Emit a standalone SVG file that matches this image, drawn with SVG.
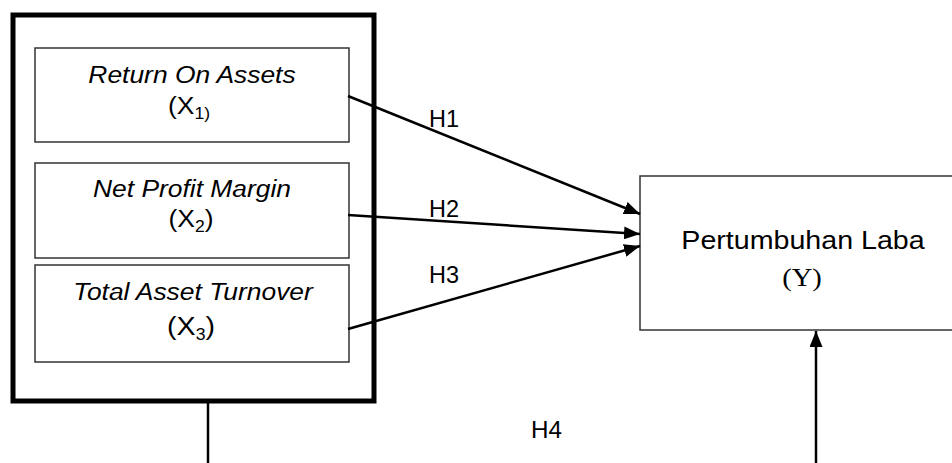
<svg xmlns="http://www.w3.org/2000/svg" width="952" height="463" viewBox="0 0 952 463">
<style>
.box{fill:#fff;stroke:#333;stroke-width:1.5}
.outer{fill:none;stroke:#000;stroke-width:5}
.lbl{font-family:"Liberation Sans",Arial,sans-serif;font-size:24px;fill:#000}
.it{font-style:italic}
.big{font-size:26px}
.sub{font-size:16px}
.serif{font-family:"Liberation Serif","Times New Roman",serif;font-size:26px;fill:#000}
.h{font-family:"Liberation Sans",Arial,sans-serif;font-size:24px;fill:#000}
.conn{stroke:#000;stroke-width:2.5;fill:none}
</style>
<defs>
<marker id="arr" markerUnits="userSpaceOnUse" markerWidth="17" markerHeight="13" refX="16" refY="6.5" orient="auto">
<path d="M0,0 L16,6.5 L0,13 z" fill="#000"/>
</marker>
</defs>
<rect x="0" y="0" width="952" height="463" fill="#fff"/>
<g id="group-x">
<rect class="outer" x="13" y="15" width="361" height="386"/>
</g>
<g id="x1">
<rect class="box" x="35" y="48" width="314" height="94"/>
<text class="lbl it" text-anchor="middle" transform="translate(192,83) scale(1.1,1)">Return On Assets</text>
<text class="lbl" text-anchor="middle" transform="translate(189,114) scale(1.1,1)">(X<tspan class="sub" dy="5">1)</tspan></text>
</g>
<g id="x2">
<rect class="box" x="35" y="163" width="314" height="95"/>
<text class="lbl it" text-anchor="middle" transform="translate(192,197) scale(1.1,1)">Net Profit Margin</text>
<text class="lbl" text-anchor="middle" transform="translate(191,227) scale(1.1,1)">(X<tspan class="sub" dy="5">2</tspan><tspan dy="-5">)</tspan></text>
</g>
<g id="x3">
<rect class="box" x="35" y="265" width="314" height="97"/>
<text class="lbl it" text-anchor="middle" transform="translate(193,300) scale(1.1,1)">Total Asset Turnover</text>
<text class="lbl big" text-anchor="middle" transform="translate(191,335) scale(1.1,1)">(X<tspan class="sub" dy="5">3</tspan><tspan dy="-5">)</tspan></text>
</g>
<g id="y">
<rect class="box" x="640" y="176" width="320" height="154"/>
<text class="lbl big" text-anchor="middle" transform="translate(803,249) scale(1.1,1)">Pertumbuhan Laba</text>
<text class="serif" text-anchor="middle" transform="translate(802,286) scale(1.1,1)">(Y)</text>
</g>
<g id="connectors">
<line class="conn" x1="348" y1="96" x2="640" y2="214" marker-end="url(#arr)"/>
<line class="conn" x1="348" y1="215" x2="640" y2="234" marker-end="url(#arr)"/>
<line class="conn" x1="348" y1="329" x2="640" y2="246" marker-end="url(#arr)"/>
<line class="conn" x1="208" y1="403" x2="208" y2="463" stroke-width="2"/>
<line class="conn" x1="816" y1="463" x2="816" y2="331" marker-end="url(#arr)"/>
<text class="h" x="429" y="127" textLength="30" lengthAdjust="spacingAndGlyphs">H1</text>
<text class="h" x="429" y="217" textLength="30" lengthAdjust="spacingAndGlyphs">H2</text>
<text class="h" x="429" y="283" textLength="30" lengthAdjust="spacingAndGlyphs">H3</text>
<text class="h" x="531" y="438" textLength="31" lengthAdjust="spacingAndGlyphs">H4</text>
</g>
</svg>
